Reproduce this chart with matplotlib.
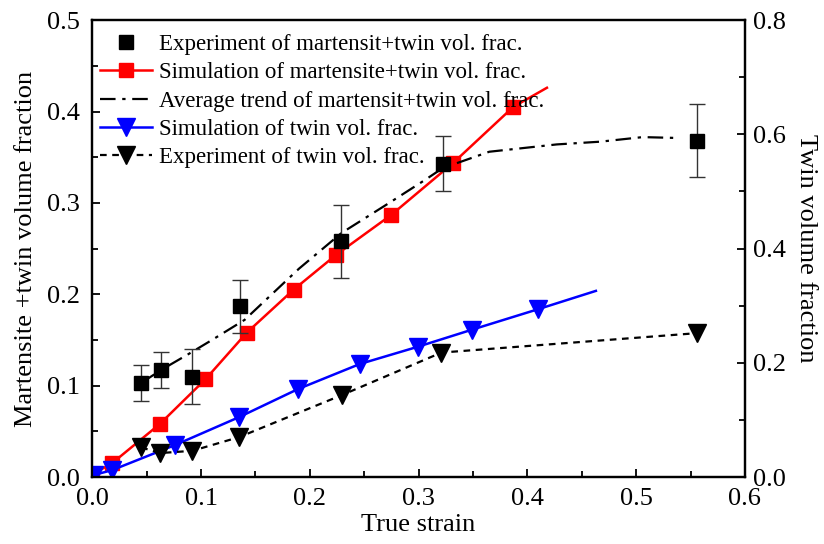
import matplotlib
matplotlib.use("Agg")
import matplotlib.pyplot as plt
from matplotlib.lines import Line2D
from matplotlib.ticker import MultipleLocator

plt.rcParams["font.family"] = ["Liberation Serif", "DejaVu Serif"]

# experiment, martensite + twin (left axis), with error bars
exp_mt_x = [0.045, 0.063, 0.092, 0.136, 0.229, 0.322, 0.556]
exp_mt_y = [0.103, 0.117, 0.110, 0.187, 0.258, 0.343, 0.368]
exp_mt_err = [0.020, 0.020, 0.030, 0.029, 0.040, 0.030, 0.040]

# simulation, martensite + twin (left axis); last point is line end only
sim_mt_x = [0.0, 0.018, 0.062, 0.104, 0.142, 0.185, 0.224, 0.275, 0.332, 0.387, 0.418]
sim_mt_y = [0.003, 0.015, 0.058, 0.107, 0.158, 0.205, 0.243, 0.287, 0.344, 0.405, 0.426]

# average trend of martensite + twin (left axis)
avg_x = [0.045, 0.063, 0.089, 0.110, 0.140, 0.165, 0.190, 0.229, 0.273, 0.307,
         0.322, 0.365, 0.427, 0.467, 0.506, 0.540]
avg_y = [0.103, 0.117, 0.135, 0.150, 0.172, 0.200, 0.228, 0.267, 0.300, 0.326,
         0.338, 0.356, 0.364, 0.367, 0.372, 0.371]

# simulation, twin (right axis); last point is line end only
sim_tw_x = [0.002, 0.018, 0.076, 0.135, 0.189, 0.246, 0.299, 0.349, 0.410, 0.463]
sim_tw_y = [0.004, 0.012, 0.056, 0.105, 0.154, 0.198, 0.228, 0.258, 0.294, 0.326]

# experiment, twin (right axis)
exp_tw_x = [0.045, 0.062, 0.092, 0.135, 0.230, 0.321, 0.556]
exp_tw_y = [0.052, 0.042, 0.046, 0.070, 0.144, 0.218, 0.252]

labels = ["Experiment of martensit+twin vol. frac.",
          "Simulation of martensite+twin vol. frac.",
          "Average trend of martensit+twin vol. frac.",
          "Simulation of twin vol. frac.",
          "Experiment of twin vol. frac."]

fig = plt.figure(figsize=(8.24, 5.44), dpi=100)
ax = fig.add_axes([0.112, 0.123, 0.792, 0.840])
ax2 = ax.twinx()

ax.errorbar(exp_mt_x, exp_mt_y, yerr=exp_mt_err, fmt="s", color="black",
            ms=10.5, ecolor="#333333", elinewidth=1, capsize=6, capthick=1, zorder=4)
h1 = Line2D([], [], marker="s", color="black", ls="none", ms=10.5)
h2, = ax.plot(sim_mt_x, sim_mt_y, "-s", color="red", lw=1.8, ms=10.5,
              markevery=list(range(len(sim_mt_x) - 1)), zorder=3)
h3, = ax.plot(avg_x, avg_y, color="black", lw=1.6, ls=(0, (7, 3, 1.5, 3)), zorder=3)
h4, = ax2.plot(sim_tw_x, sim_tw_y, "-v", color="blue", lw=1.8, ms=13.5,
               markevery=list(range(len(sim_tw_x) - 1)))
h5, = ax2.plot(exp_tw_x, exp_tw_y, "v", color="black", ls=(0, (3, 2.5)),
               lw=1.6, ms=13.5)

ax.set_xlim(0, 0.6)
ax.set_ylim(0, 0.5)
ax2.set_ylim(0, 0.8)

ax.xaxis.set_major_locator(MultipleLocator(0.1))
ax.xaxis.set_minor_locator(MultipleLocator(0.05))
ax.yaxis.set_major_locator(MultipleLocator(0.1))
ax.yaxis.set_minor_locator(MultipleLocator(0.05))
ax2.yaxis.set_major_locator(MultipleLocator(0.2))
ax2.yaxis.set_minor_locator(MultipleLocator(0.1))

ax.xaxis.set_major_formatter(lambda v, p: f"{v:.1f}")
ax.yaxis.set_major_formatter(lambda v, p: f"{v:.1f}")
ax2.yaxis.set_major_formatter(lambda v, p: f"{v:.1f}")

ax.tick_params(which="both", direction="in", labelsize=19, top=False, right=False, width=1.3)
ax.tick_params(which="major", length=6)
ax.tick_params(which="minor", length=4)
ax.tick_params(axis="x", which="major", pad=8)
ax.tick_params(axis="y", which="major", pad=9)
ax2.tick_params(which="both", direction="in", labelsize=19, width=1.3)
ax2.tick_params(which="major", length=6, pad=6)
ax2.tick_params(which="minor", length=4)

for a in (ax, ax2):
    for s in a.spines.values():
        s.set_linewidth(1.6)

ax.set_xlabel("True strain", fontsize=19, labelpad=3)
ax.set_ylabel("Martensite +twin volume fraction", fontsize=19, labelpad=7)
ax2.set_ylabel("Twin volume fraction", fontsize=19, rotation=-90, labelpad=22)

ax2.legend([h1, h2, h3, h4, h5], labels,
           loc="upper left", bbox_to_anchor=(-0.01, 1.0), frameon=False,
           fontsize=16.5, handlelength=2.3, handletextpad=0.3, labelspacing=0.32,
           borderaxespad=0.2)

fig.savefig("out.png", dpi=100)
